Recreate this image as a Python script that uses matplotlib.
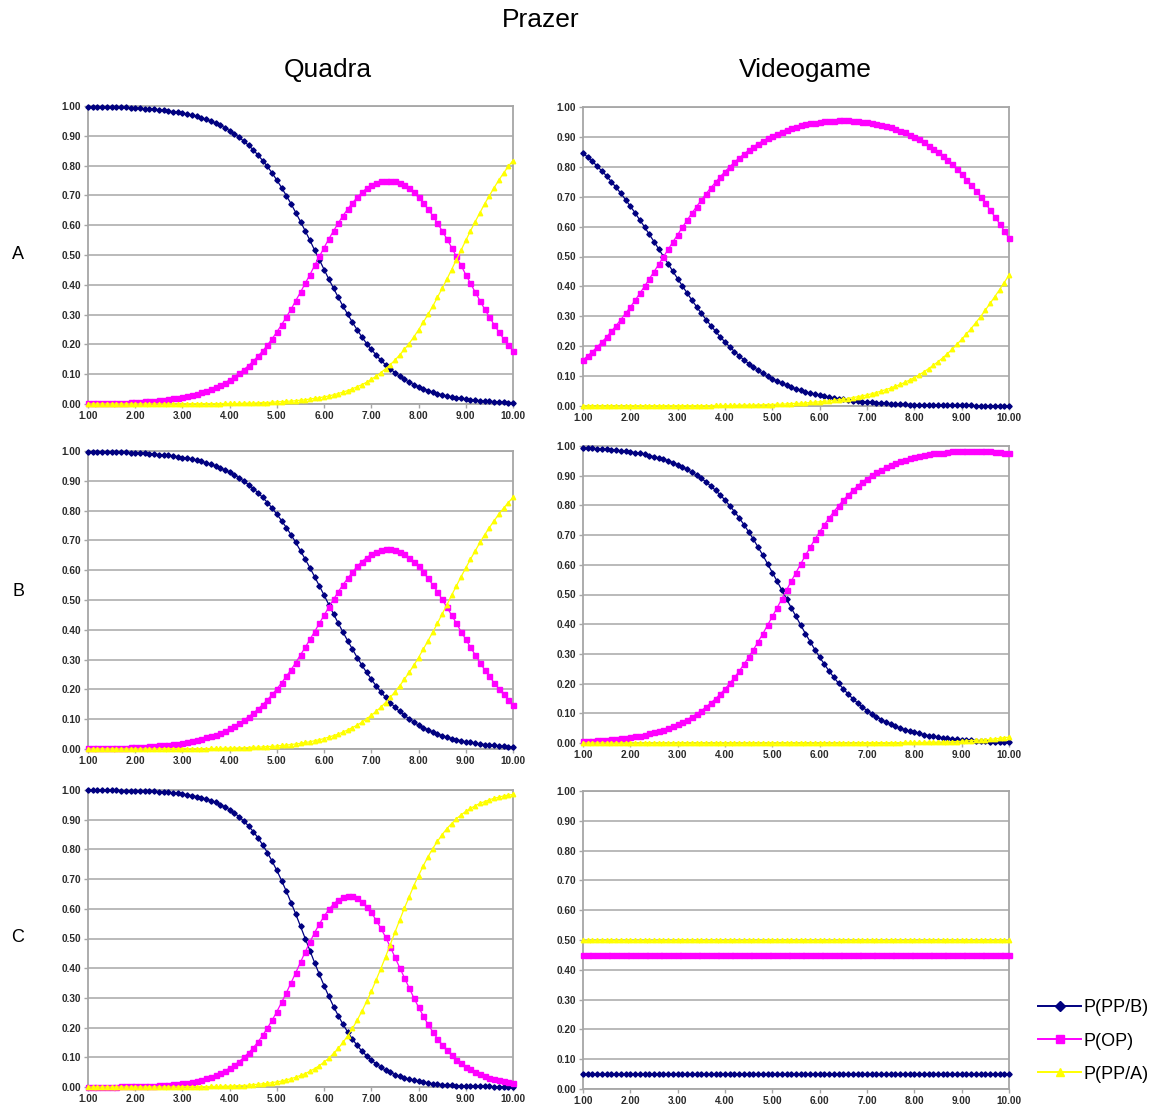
import numpy as np
import matplotlib.pyplot as plt
from matplotlib.lines import Line2D

# x grid used by every series (1.00 .. 10.00, step 0.10)
x = np.linspace(1, 10, 91)

# ---- Quadra / A ----
qa_b = [0.998, 0.998, 0.998, 0.997, 0.997, 0.997, 0.996, 0.995, 0.995, 0.994,
        0.993, 0.992, 0.991, 0.990, 0.989, 0.987, 0.986, 0.983, 0.981, 0.979,
        0.976, 0.973, 0.969, 0.965, 0.960, 0.955, 0.949, 0.942, 0.935, 0.927,
        0.917, 0.907, 0.895, 0.882, 0.868, 0.853, 0.835, 0.817, 0.797, 0.775,
        0.751, 0.726, 0.699, 0.672, 0.642, 0.612, 0.581, 0.549, 0.516, 0.484,
        0.451, 0.419, 0.388, 0.358, 0.328, 0.301, 0.274, 0.249, 0.225, 0.203,
        0.183, 0.165, 0.147, 0.132, 0.118, 0.105, 0.093, 0.083, 0.073, 0.065,
        0.058, 0.051, 0.045, 0.040, 0.035, 0.031, 0.027, 0.024, 0.021, 0.019,
        0.017, 0.014, 0.013, 0.011, 0.010, 0.009, 0.008, 0.007, 0.006, 0.005,
        0.005]
qa_op = [0.002, 0.002, 0.002, 0.003, 0.003, 0.003, 0.004, 0.005, 0.005, 0.006,
         0.007, 0.008, 0.009, 0.010, 0.011, 0.013, 0.014, 0.017, 0.019, 0.021,
         0.024, 0.026, 0.030, 0.034, 0.039, 0.044, 0.050, 0.057, 0.064, 0.071,
         0.081, 0.091, 0.103, 0.115, 0.129, 0.144, 0.161, 0.178, 0.198, 0.219,
         0.242, 0.266, 0.292, 0.318, 0.347, 0.375, 0.405, 0.434, 0.465, 0.495,
         0.525, 0.554, 0.581, 0.607, 0.632, 0.654, 0.675, 0.693, 0.710, 0.724,
         0.734, 0.742, 0.748, 0.750, 0.750, 0.748, 0.742, 0.734, 0.724, 0.710,
         0.693, 0.675, 0.654, 0.632, 0.607, 0.581, 0.554, 0.525, 0.495, 0.465,
         0.434, 0.405, 0.375, 0.347, 0.318, 0.292, 0.266, 0.242, 0.219, 0.198,
         0.178]
qa_a = [0.000, 0.000, 0.000, 0.000, 0.000, 0.000, 0.000, 0.000, 0.000, 0.000,
        0.000, 0.000, 0.000, 0.000, 0.000, 0.000, 0.000, 0.000, 0.000, 0.000,
        0.000, 0.001, 0.001, 0.001, 0.001, 0.001, 0.001, 0.001, 0.001, 0.002,
        0.002, 0.002, 0.002, 0.003, 0.003, 0.003, 0.004, 0.005, 0.005, 0.006,
        0.007, 0.008, 0.009, 0.010, 0.011, 0.013, 0.014, 0.017, 0.019, 0.021,
        0.024, 0.027, 0.031, 0.035, 0.040, 0.045, 0.051, 0.058, 0.065, 0.073,
        0.083, 0.093, 0.105, 0.118, 0.132, 0.147, 0.165, 0.183, 0.203, 0.225,
        0.249, 0.274, 0.301, 0.328, 0.358, 0.388, 0.419, 0.451, 0.484, 0.516,
        0.549, 0.581, 0.612, 0.642, 0.672, 0.699, 0.726, 0.751, 0.775, 0.797,
        0.817]

# ---- Videogame / A ----
va_b = [0.846, 0.832, 0.818, 0.802, 0.786, 0.769, 0.750, 0.731, 0.711, 0.690,
        0.668, 0.646, 0.622, 0.599, 0.574, 0.550, 0.525, 0.500, 0.475, 0.450,
        0.426, 0.401, 0.378, 0.354, 0.332, 0.310, 0.289, 0.269, 0.250, 0.231,
        0.214, 0.198, 0.182, 0.168, 0.154, 0.142, 0.130, 0.119, 0.109, 0.100,
        0.091, 0.083, 0.076, 0.069, 0.063, 0.057, 0.052, 0.047, 0.043, 0.039,
        0.036, 0.032, 0.029, 0.027, 0.024, 0.022, 0.020, 0.018, 0.016, 0.015,
        0.013, 0.012, 0.011, 0.010, 0.009, 0.008, 0.007, 0.007, 0.006, 0.005,
        0.005, 0.004, 0.004, 0.004, 0.003, 0.003, 0.003, 0.002, 0.002, 0.002,
        0.002, 0.002, 0.002, 0.001, 0.001, 0.001, 0.001, 0.001, 0.001, 0.001,
        0.001]
va_op = [0.154, 0.168, 0.182, 0.198, 0.214, 0.231, 0.250, 0.269, 0.289, 0.310,
         0.331, 0.353, 0.377, 0.400, 0.425, 0.449, 0.474, 0.499, 0.524, 0.549,
         0.573, 0.598, 0.621, 0.645, 0.667, 0.689, 0.710, 0.730, 0.748, 0.767,
         0.784, 0.800, 0.816, 0.829, 0.843, 0.855, 0.867, 0.877, 0.887, 0.895,
         0.904, 0.911, 0.918, 0.924, 0.929, 0.934, 0.939, 0.943, 0.945, 0.948,
         0.950, 0.952, 0.954, 0.954, 0.955, 0.955, 0.955, 0.954, 0.953, 0.951,
         0.950, 0.947, 0.944, 0.940, 0.936, 0.932, 0.927, 0.921, 0.915, 0.908,
         0.900, 0.892, 0.882, 0.871, 0.861, 0.849, 0.836, 0.823, 0.808, 0.792,
         0.775, 0.757, 0.739, 0.720, 0.700, 0.678, 0.656, 0.633, 0.610, 0.586,
         0.561]
va_a = [0.000, 0.000, 0.000, 0.000, 0.000, 0.000, 0.000, 0.000, 0.000, 0.000,
        0.001, 0.001, 0.001, 0.001, 0.001, 0.001, 0.001, 0.001, 0.001, 0.001,
        0.001, 0.001, 0.001, 0.001, 0.001, 0.001, 0.001, 0.001, 0.002, 0.002,
        0.002, 0.002, 0.002, 0.003, 0.003, 0.003, 0.003, 0.004, 0.004, 0.005,
        0.005, 0.006, 0.006, 0.007, 0.008, 0.009, 0.009, 0.010, 0.012, 0.013,
        0.014, 0.016, 0.017, 0.019, 0.021, 0.023, 0.025, 0.028, 0.031, 0.034,
        0.037, 0.041, 0.045, 0.050, 0.055, 0.060, 0.066, 0.072, 0.079, 0.087,
        0.095, 0.104, 0.114, 0.125, 0.136, 0.148, 0.161, 0.175, 0.190, 0.206,
        0.223, 0.241, 0.259, 0.279, 0.299, 0.321, 0.343, 0.366, 0.389, 0.413,
        0.438]

# ---- Quadra / B ----
qb_b = [0.998, 0.998, 0.998, 0.997, 0.997, 0.997, 0.996, 0.996, 0.995, 0.994,
        0.994, 0.993, 0.992, 0.991, 0.990, 0.988, 0.987, 0.985, 0.983, 0.981,
        0.978, 0.976, 0.972, 0.969, 0.965, 0.960, 0.955, 0.950, 0.943, 0.936,
        0.928, 0.920, 0.910, 0.899, 0.887, 0.874, 0.860, 0.844, 0.827, 0.808,
        0.788, 0.766, 0.743, 0.719, 0.693, 0.665, 0.637, 0.608, 0.578, 0.547,
        0.516, 0.484, 0.453, 0.422, 0.392, 0.363, 0.335, 0.307, 0.281, 0.257,
        0.234, 0.212, 0.192, 0.173, 0.156, 0.140, 0.126, 0.113, 0.101, 0.090,
        0.080, 0.072, 0.064, 0.057, 0.050, 0.045, 0.040, 0.035, 0.031, 0.028,
        0.024, 0.022, 0.019, 0.017, 0.015, 0.013, 0.012, 0.010, 0.009, 0.008,
        0.007]
qb_op = [0.002, 0.002, 0.002, 0.003, 0.003, 0.003, 0.004, 0.004, 0.005, 0.006,
         0.006, 0.007, 0.008, 0.009, 0.010, 0.012, 0.012, 0.014, 0.016, 0.018,
         0.021, 0.023, 0.027, 0.030, 0.034, 0.039, 0.043, 0.048, 0.055, 0.061,
         0.069, 0.077, 0.086, 0.097, 0.108, 0.120, 0.134, 0.149, 0.165, 0.183,
         0.202, 0.222, 0.244, 0.266, 0.290, 0.316, 0.341, 0.368, 0.394, 0.422,
         0.449, 0.476, 0.502, 0.528, 0.551, 0.573, 0.593, 0.613, 0.629, 0.642,
         0.653, 0.662, 0.668, 0.671, 0.671, 0.668, 0.662, 0.653, 0.642, 0.629,
         0.613, 0.593, 0.573, 0.551, 0.528, 0.502, 0.476, 0.449, 0.422, 0.394,
         0.368, 0.341, 0.316, 0.290, 0.266, 0.244, 0.222, 0.202, 0.183, 0.165,
         0.149]
qb_a = [0.000, 0.000, 0.000, 0.000, 0.000, 0.000, 0.000, 0.000, 0.000, 0.000,
        0.000, 0.000, 0.000, 0.000, 0.000, 0.000, 0.001, 0.001, 0.001, 0.001,
        0.001, 0.001, 0.001, 0.001, 0.001, 0.001, 0.002, 0.002, 0.002, 0.003,
        0.003, 0.003, 0.004, 0.004, 0.005, 0.006, 0.006, 0.007, 0.008, 0.009,
        0.010, 0.012, 0.013, 0.015, 0.017, 0.019, 0.022, 0.024, 0.028, 0.031,
        0.035, 0.040, 0.045, 0.050, 0.057, 0.064, 0.072, 0.080, 0.090, 0.101,
        0.113, 0.126, 0.140, 0.156, 0.173, 0.192, 0.212, 0.234, 0.257, 0.281,
        0.307, 0.335, 0.363, 0.392, 0.422, 0.453, 0.484, 0.516, 0.547, 0.578,
        0.608, 0.637, 0.665, 0.693, 0.719, 0.743, 0.766, 0.788, 0.808, 0.827,
        0.844]

# ---- Videogame / B ----
vb_b = [0.994, 0.993, 0.992, 0.991, 0.990, 0.989, 0.988, 0.986, 0.984, 0.982,
        0.980, 0.978, 0.975, 0.972, 0.968, 0.964, 0.960, 0.955, 0.950, 0.944,
        0.937, 0.930, 0.921, 0.912, 0.902, 0.891, 0.879, 0.865, 0.851, 0.835,
        0.818, 0.799, 0.779, 0.758, 0.735, 0.711, 0.686, 0.659, 0.632, 0.603,
        0.574, 0.545, 0.515, 0.485, 0.455, 0.426, 0.397, 0.368, 0.341, 0.314,
        0.289, 0.265, 0.242, 0.221, 0.201, 0.182, 0.165, 0.149, 0.135, 0.121,
        0.109, 0.098, 0.088, 0.079, 0.070, 0.063, 0.056, 0.050, 0.045, 0.040,
        0.036, 0.032, 0.028, 0.025, 0.022, 0.020, 0.018, 0.016, 0.014, 0.012,
        0.011, 0.010, 0.009, 0.008, 0.007, 0.006, 0.005, 0.005, 0.004, 0.004,
        0.003]
vb_op = [0.006, 0.007, 0.008, 0.009, 0.010, 0.011, 0.012, 0.014, 0.016, 0.018,
         0.020, 0.022, 0.025, 0.028, 0.032, 0.036, 0.040, 0.045, 0.050, 0.056,
         0.063, 0.070, 0.079, 0.088, 0.098, 0.109, 0.121, 0.135, 0.149, 0.165,
         0.182, 0.201, 0.221, 0.242, 0.265, 0.289, 0.314, 0.341, 0.368, 0.397,
         0.426, 0.455, 0.485, 0.515, 0.545, 0.574, 0.603, 0.632, 0.659, 0.686,
         0.711, 0.735, 0.758, 0.779, 0.799, 0.818, 0.835, 0.851, 0.865, 0.879,
         0.890, 0.901, 0.911, 0.920, 0.929, 0.936, 0.943, 0.949, 0.953, 0.958,
         0.962, 0.966, 0.970, 0.972, 0.975, 0.977, 0.978, 0.980, 0.982, 0.983,
         0.983, 0.983, 0.983, 0.983, 0.983, 0.983, 0.983, 0.981, 0.980, 0.978,
         0.977]
vb_a = [0.000, 0.000, 0.000, 0.000, 0.000, 0.000, 0.000, 0.000, 0.000, 0.000,
        0.000, 0.000, 0.000, 0.000, 0.000, 0.000, 0.000, 0.000, 0.000, 0.000,
        0.000, 0.000, 0.000, 0.000, 0.000, 0.000, 0.000, 0.000, 0.000, 0.000,
        0.000, 0.000, 0.000, 0.000, 0.000, 0.000, 0.000, 0.000, 0.000, 0.000,
        0.000, 0.000, 0.000, 0.000, 0.000, 0.000, 0.000, 0.000, 0.000, 0.000,
        0.000, 0.000, 0.000, 0.000, 0.000, 0.000, 0.000, 0.000, 0.000, 0.000,
        0.001, 0.001, 0.001, 0.001, 0.001, 0.001, 0.001, 0.001, 0.002, 0.002,
        0.002, 0.002, 0.002, 0.003, 0.003, 0.003, 0.004, 0.004, 0.004, 0.005,
        0.006, 0.007, 0.008, 0.009, 0.010, 0.011, 0.012, 0.014, 0.016, 0.018,
        0.020]

# ---- Quadra / C ----
qc_b = [0.999, 0.999, 0.999, 0.999, 0.999, 0.999, 0.999, 0.998, 0.998, 0.998,
        0.997, 0.997, 0.996, 0.996, 0.995, 0.994, 0.993, 0.992, 0.990, 0.989,
        0.986, 0.984, 0.981, 0.978, 0.974, 0.970, 0.964, 0.958, 0.951, 0.943,
        0.933, 0.922, 0.910, 0.895, 0.879, 0.860, 0.839, 0.815, 0.789, 0.760,
        0.729, 0.695, 0.659, 0.621, 0.582, 0.541, 0.500, 0.459, 0.418, 0.379,
        0.341, 0.305, 0.271, 0.240, 0.211, 0.185, 0.161, 0.140, 0.121, 0.105,
        0.090, 0.078, 0.067, 0.057, 0.049, 0.042, 0.036, 0.030, 0.026, 0.022,
        0.019, 0.016, 0.014, 0.011, 0.010, 0.008, 0.007, 0.006, 0.005, 0.004,
        0.004, 0.003, 0.003, 0.002, 0.002, 0.002, 0.001, 0.001, 0.001, 0.001,
        0.001]
qc_op = [0.001, 0.001, 0.001, 0.001, 0.001, 0.001, 0.001, 0.002, 0.002, 0.002,
         0.003, 0.003, 0.004, 0.004, 0.005, 0.006, 0.007, 0.008, 0.010, 0.011,
         0.013, 0.015, 0.018, 0.021, 0.025, 0.029, 0.034, 0.040, 0.047, 0.054,
         0.064, 0.074, 0.085, 0.100, 0.115, 0.132, 0.152, 0.174, 0.199, 0.225,
         0.254, 0.285, 0.317, 0.351, 0.385, 0.420, 0.455, 0.488, 0.520, 0.549,
         0.575, 0.598, 0.616, 0.630, 0.639, 0.642, 0.642, 0.635, 0.624, 0.607,
         0.588, 0.562, 0.535, 0.505, 0.472, 0.437, 0.402, 0.368, 0.334, 0.300,
         0.269, 0.239, 0.211, 0.186, 0.163, 0.142, 0.123, 0.107, 0.092, 0.080,
         0.068, 0.059, 0.050, 0.043, 0.037, 0.031, 0.027, 0.023, 0.019, 0.016,
         0.014]
qc_a = [0.000, 0.000, 0.000, 0.000, 0.000, 0.000, 0.000, 0.000, 0.000, 0.000,
        0.000, 0.000, 0.000, 0.000, 0.000, 0.000, 0.000, 0.000, 0.000, 0.000,
        0.001, 0.001, 0.001, 0.001, 0.001, 0.001, 0.002, 0.002, 0.002, 0.003,
        0.003, 0.004, 0.005, 0.005, 0.006, 0.008, 0.009, 0.011, 0.012, 0.015,
        0.017, 0.020, 0.024, 0.028, 0.033, 0.039, 0.045, 0.053, 0.062, 0.072,
        0.084, 0.097, 0.113, 0.130, 0.150, 0.173, 0.197, 0.225, 0.255, 0.288,
        0.322, 0.360, 0.398, 0.438, 0.479, 0.521, 0.562, 0.602, 0.640, 0.678,
        0.712, 0.745, 0.775, 0.803, 0.827, 0.850, 0.870, 0.887, 0.903, 0.916,
        0.928, 0.938, 0.947, 0.955, 0.961, 0.967, 0.972, 0.976, 0.980, 0.983,
        0.985]

# ---- Videogame / C (flat) ----
vc_b = [0.05] * 91
vc_op = [0.45] * 91
vc_a = [0.50] * 91

row_labels = ['A', 'B', 'C']
col_labels = ['Quadra', 'Videogame']
series_labels = ['P(PP/B)', 'P(OP)', 'P(PP/A)']

# axes boxes in pixels: left, top, right, bottom (figure is 1169 x 1108)
W, H = 1169, 1108
boxes = [(88, 106, 513, 404), (583, 107, 1009, 406),
         (88, 451, 513, 749), (583, 446, 1009, 743),
         (88, 790, 513, 1087), (583, 791, 1009, 1089)]
data = [(qa_b, qa_op, qa_a), (va_b, va_op, va_a),
        (qb_b, qb_op, qb_a), (vb_b, vb_op, vb_a),
        (qc_b, qc_op, qc_a), (vc_b, vc_op, vc_a)]

navy = '#000080'
pink = '#FF00FF'
yellow = '#FFFF00'

plt.rcParams['font.family'] = ['Liberation Sans', 'DejaVu Sans']
fig = plt.figure(figsize=(W / 100, H / 100), dpi=100)

for (l, t, r, b), (pb, pop, pa) in zip(boxes, data):
    ax = fig.add_axes([l / W, 1 - b / H, (r - l) / W, (b - t) / H])
    ax.plot(x, pb, color=navy, marker='D', markersize=2.7, linewidth=0.9,
            clip_on=False, zorder=3)
    ax.plot(x, pop, color=pink, marker='s', markersize=3.6, linewidth=0.9,
            clip_on=False, zorder=3)
    ax.plot(x, pa, color=yellow, marker='^', markersize=3.2, linewidth=0.9,
            clip_on=False, zorder=3)
    ax.set_xlim(1, 10)
    ax.set_ylim(0, 1)
    ax.set_xticks(np.arange(1, 11))
    ax.set_yticks(np.linspace(0, 1, 11))
    ax.xaxis.set_major_formatter('{x:.2f}')
    ax.yaxis.set_major_formatter('{x:.2f}')
    ax.yaxis.grid(True, color='#b4b4b4', linewidth=1.3)
    ax.set_axisbelow(True)
    for s in ax.spines.values():
        s.set_color('#a6a6a6')
        s.set_linewidth(1.3)
    ax.tick_params(length=3, width=1, color='#a6a6a6', pad=2,
                   labelsize=7.2, labelcolor='#2a2a2a')
    for lab in ax.get_xticklabels() + ax.get_yticklabels():
        lab.set_fontweight('bold')

fig.text(541 / W, 1 - 20 / H, 'Prazer', ha='center', va='center', fontsize=19)
fig.text(328 / W, 1 - 70 / H, col_labels[0], ha='center', va='center', fontsize=19)
fig.text(805 / W, 1 - 70 / H, col_labels[1], ha='center', va='center', fontsize=19)
for lab, yy in zip(row_labels, [255, 592, 938]):
    fig.text(18 / W, 1 - yy / H, lab, ha='center', va='center', fontsize=13)

handles = [Line2D([], [], color=navy, marker='D', markersize=5, linewidth=1.4),
           Line2D([], [], color=pink, marker='s', markersize=6, linewidth=1.4),
           Line2D([], [], color=yellow, marker='^', markersize=6, linewidth=1.4)]
fig.legend(handles, series_labels, loc='center left',
           bbox_to_anchor=(1038 / W, 1 - 1041 / H), frameon=False,
           fontsize=13, handlelength=2.4, handletextpad=0.1,
           labelspacing=0.9, borderpad=0, borderaxespad=0)

fig.savefig('out.png', dpi=100)
